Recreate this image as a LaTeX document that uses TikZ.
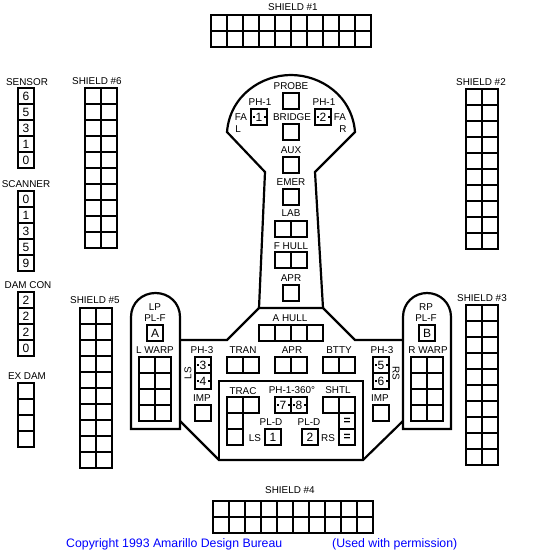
\documentclass[tikz,border=0pt]{standalone}
\usepackage{fontspec}
\setmainfont{Liberation Sans}
\tikzset{
  hull/.style={line width=2.2pt,line join=miter},
  cell/.style={line width=2.4pt},
  lbl/.style={inner sep=0pt,font=\fontsize{9.9}{11}\selectfont},
  num/.style={inner sep=0pt,font=\fontsize{12}{12}\selectfont},
  arcdot/.style={fill=black,inner sep=0pt,minimum size=2pt},
  credit/.style={inner sep=0pt,anchor=west,text=blue,font=\fontsize{12.3}{12}\selectfont}
}
% block of square boxes: left, top, columns, rows
\newcommand{\cellgrid}[4]{
  \foreach \i in {1,...,#3} \foreach \j in {1,...,#4}
    \draw[cell] ({#1+16*(\i-1)},{#2+16*(\j-1)}) rectangle +(16,16);
}
\begin{document}
\begin{tikzpicture}[x=1pt,y=-1pt]
\useasboundingbox (0,0) rectangle (538,551);

% hull
\draw[hull] (259,308) -- (265,172) -- (227,132)
  .. controls (230,95) and (262,75) .. (291,75)
  .. controls (320,75) and (352,95) .. (355,132)
  -- (315,172) -- (323,308);
\draw[hull] (259,308) -- (323,308) -- (355,340) -- (403,340);
\draw[hull] (259,308) -- (227,340) -- (180,340);
\draw[hull] (131,429) -- (131,317) .. controls (131,303) and (142,293) .. (155.5,293)
  .. controls (169,293) and (180,303) .. (180,317) -- (180,429) -- cycle;
\draw[hull] (403,429) -- (403,317) .. controls (403,303) and (414,293) .. (427,293)
  .. controls (440,293) and (451,303) .. (451,317) -- (451,429) -- cycle;
\draw[hull] (180,421) -- (219,460) -- (363,460) -- (403,421);
\draw[hull] (219,460) -- (219,381) -- (363,381) -- (363,460);

% shields
\cellgrid{211}{15}{10}{2}
\cellgrid{466}{89}{2}{10}
\cellgrid{466}{305}{2}{10}
\cellgrid{213}{501}{10}{2}
\cellgrid{80}{308}{2}{10}
\cellgrid{85}{88}{2}{10}
\node[lbl] (shieldone) at (293,7) {SHIELD \#1};
\node[lbl] (shieldtwo) at (481,82) {SHIELD \#2};
\node[lbl] (shieldthree) at (482,298) {SHIELD \#3};
\node[lbl] (shieldfour) at (290,490) {SHIELD \#4};
\node[lbl] (shieldfive) at (95,300) {SHIELD \#5};
\node[lbl] (shieldsix) at (97,81) {SHIELD \#6};

% tracks down the left side
\cellgrid{18}{88}{1}{5}
\cellgrid{18}{191}{1}{5}
\cellgrid{18}{292}{1}{4}
\cellgrid{18}{383}{1}{4}
\node[lbl] (sensor) at (27,82) {SENSOR};
\node[lbl] (scanner) at (26,184) {SCANNER};
\node[lbl] (damcon) at (28,285) {DAM CON};
\node[lbl] (exdam) at (27,376) {EX DAM};
\foreach \v [count=\n] in {6,5,3,1,0}
  \node[num] (sensor\n) at (26,{80+16*\n}) {\v};
\foreach \v [count=\n] in {0,1,3,5,9}
  \node[num] (scanner\n) at (26,{183+16*\n}) {\v};
\foreach \v [count=\n] in {2,2,2,0}
  \node[num] (damcon\n) at (26,{284+16*\n}) {\v};

% saucer
\cellgrid{283}{93}{1}{1}
\cellgrid{283}{124}{1}{1}
\cellgrid{283}{157}{1}{1}
\cellgrid{283}{189}{1}{1}
\cellgrid{251}{109}{1}{1}
\cellgrid{315}{109}{1}{1}
\node[lbl] (probe) at (291,86) {PROBE};
\node[lbl] (phleft) at (260,102) {PH-1};
\node[lbl] (phright) at (324,102) {PH-1};
\node[lbl] (faleft) at (241,117) {FA};
\node[lbl] (lleft) at (238,129) {L};
\node[lbl] (faright) at (340,117) {FA};
\node[lbl] (rright) at (343,129) {R};
\node[lbl] (bridge) at (292,117) {BRIDGE};
\node[lbl] (aux) at (291,150) {AUX};
\node[lbl] (emer) at (291,182) {EMER};
\node[num] (phone) at (259,117) {1};
\node[num] (phtwo) at (323,117) {2};

% neck
\cellgrid{275}{221}{2}{1}
\cellgrid{275}{252}{2}{1}
\cellgrid{283}{285}{1}{1}
\node[lbl] (lab) at (291,213) {LAB};
\node[lbl] (fhull) at (291,246) {F HULL};
\node[lbl] (apr) at (291,278) {APR};

% aft hull
\cellgrid{259}{325}{4}{1}
\cellgrid{227}{357}{2}{1}
\cellgrid{275}{357}{2}{1}
\cellgrid{323}{357}{2}{1}
\cellgrid{195}{357}{1}{2}
\cellgrid{373}{357}{1}{2}
\cellgrid{195}{405}{1}{1}
\cellgrid{373}{405}{1}{1}
\node[lbl] (ahull) at (290,318) {A HULL};
\node[lbl] (tran) at (243,350) {TRAN};
\node[lbl] (aftapr) at (292,350) {APR};
\node[lbl] (btty) at (339,350) {BTTY};
\node[lbl] (phthreel) at (202,350) {PH-3};
\node[lbl] (phthreer) at (382,350) {PH-3};
\node[lbl,rotate=90] (ls) at (188,373) {LS};
\node[lbl,rotate=-90] (rs) at (396,373) {RS};
\node[lbl] (impl) at (202,398) {IMP};
\node[lbl] (impr) at (380,398) {IMP};
\node[num] (phthree) at (203,365) {3};
\node[num] (phfour) at (203,381) {4};
\node[num] (phfive) at (381,365) {5};
\node[num] (phsix) at (381,381) {6};

% nacelles
\cellgrid{147}{325}{1}{1}
\cellgrid{419}{325}{1}{1}
\cellgrid{139}{357}{2}{4}
\cellgrid{411}{357}{2}{4}
\node[lbl] (lp) at (155,307) {LP};
\node[lbl] (plfl) at (155,318) {PL-F};
\node[lbl] (lwarp) at (155,350) {L WARP};
\node[lbl] (rp) at (426,307) {RP};
\node[lbl] (plfr) at (426,318) {PL-F};
\node[lbl] (rwarp) at (428,350) {R WARP};
\node[num] (lpa) at (155,333) {A};
\node[num] (rpb) at (427,333) {B};

% shuttle bay block
\cellgrid{227}{397}{2}{1}
\cellgrid{227}{413}{1}{2}
\cellgrid{323}{397}{2}{1}
\cellgrid{339}{413}{1}{2}
\cellgrid{275}{397}{2}{1}
\cellgrid{265}{429}{1}{1}
\cellgrid{302}{429}{1}{1}
\node[lbl] (trac) at (243,391) {TRAC};
\node[lbl] (phall) at (292,390) {PH-1-360°};
\node[lbl] (shtl) at (338,390) {SHTL};
\node[lbl] (pldl) at (271,422) {PL-D};
\node[lbl] (pldr) at (309,422) {PL-D};
\node[lbl] (lsd) at (255,438) {LS};
\node[lbl] (rsd) at (328,438) {RS};
\node[num] (phseven) at (283,405) {7};
\node[num] (pheight) at (299,405) {8};
\node[num] (plone) at (273,437) {1};
\node[num] (pltwo) at (310,437) {2};
\node[num,font=\bfseries\fontsize{12}{12}\selectfont] (eqa) at (347,421) {=};
\node[num,font=\bfseries\fontsize{12}{12}\selectfont] (eqb) at (347,437) {=};

% firing arc marks on the phaser boxes
\foreach \x/\y in {253.5/117,264.5/117,317.5/117,328.5/117,197.5/365,208.5/365,197.5/381,208.5/381,
                   375.5/365,386.5/365,375.5/381,386.5/381,277.5/405,288.5/405,293.5/405,304.5/405}
  \node[arcdot] at (\x,\y) {};

% credits
\node[credit] (copyright) at (66,544) {Copyright 1993 Amarillo Design Bureau};
\node[credit] (permission) at (332,544) {(Used with permission)};
\end{tikzpicture}
\end{document}
